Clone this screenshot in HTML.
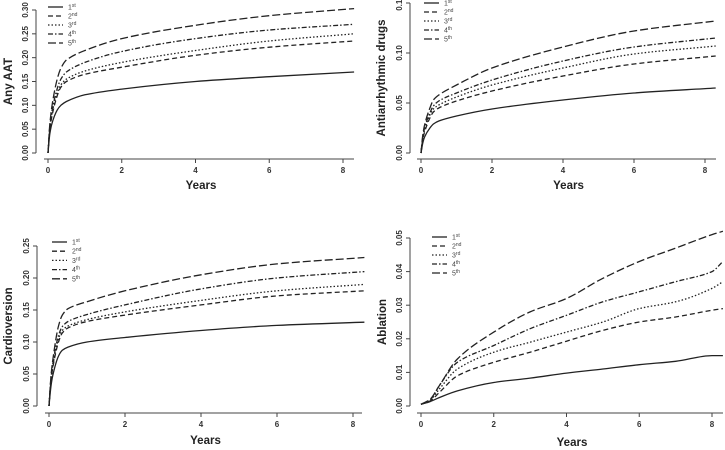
<!DOCTYPE html>
<html><head><meta charset="utf-8"><style>
body{margin:0;background:#fff;}
svg{display:block;font-family:"Liberation Sans",sans-serif;}
</style></head><body>
<svg id="c" width="725" height="450"></svg>
<script>
const seriesNames=["1st","2nd","3rd","4th","5th"];
const tA=[0,0.05,0.1,0.25,0.35,0.5,1,2,4,6,8.3];
const aat1=[0,0.04,0.06,0.09,0.1,0.108,0.122,0.134,0.15,0.16,0.17];
const aat2=[0,0.05,0.075,0.12,0.138,0.15,0.165,0.18,0.205,0.222,0.235];
const aat3=[0,0.052,0.08,0.125,0.143,0.155,0.172,0.19,0.215,0.235,0.25];
const aat4=[0,0.055,0.085,0.135,0.155,0.17,0.19,0.213,0.24,0.258,0.27];
const aat5=[0,0.06,0.095,0.155,0.178,0.195,0.215,0.24,0.268,0.288,0.303];
const aad1=[0,0.01,0.016,0.025,0.029,0.032,0.037,0.044,0.053,0.06,0.065];
const aad2=[0,0.014,0.021,0.035,0.041,0.045,0.052,0.062,0.077,0.089,0.097];
const aad3=[0,0.015,0.023,0.038,0.044,0.048,0.056,0.068,0.085,0.099,0.107];
const aad4=[0,0.016,0.025,0.04,0.047,0.052,0.06,0.073,0.092,0.106,0.115];
const aad5=[0,0.018,0.028,0.045,0.053,0.058,0.068,0.085,0.106,0.122,0.132];
const cv1=[0,0.03,0.048,0.078,0.087,0.092,0.1,0.107,0.118,0.126,0.131];
const cv2=[0,0.038,0.06,0.1,0.114,0.122,0.132,0.142,0.158,0.172,0.18];
const cv3=[0,0.04,0.062,0.105,0.118,0.125,0.135,0.147,0.165,0.18,0.19];
const cv4=[0,0.042,0.066,0.11,0.124,0.132,0.143,0.158,0.183,0.2,0.21];
const cv5=[0,0.045,0.072,0.125,0.142,0.152,0.163,0.18,0.205,0.222,0.232];
const tB=[0,0.25,0.5,1,2,3,4,5,6,7,8,8.3];
const ab1=[0.0005,0.0013,0.0025,0.0045,0.007,0.0083,0.0098,0.011,0.0123,0.0133,0.015,0.015];
const ab2=[0.0005,0.0015,0.004,0.009,0.013,0.016,0.0193,0.0225,0.025,0.0265,0.0285,0.029];
const ab3=[0.0005,0.0017,0.005,0.011,0.016,0.019,0.022,0.025,0.029,0.031,0.035,0.037];
const ab4=[0.0005,0.0018,0.006,0.013,0.018,0.023,0.027,0.031,0.034,0.037,0.040,0.043];
const ab5=[0.0005,0.002,0.006,0.014,0.022,0.028,0.032,0.038,0.043,0.047,0.051,0.052];
const xTicks=[0,2,4,6,8];
const aatTicks=["0.00","0.05","0.10","0.15","0.20","0.25","0.30"];
const aadTicks=["0.00","0.05","0.10","0.15"];
const cvTicks=["0.00","0.05","0.10","0.15","0.20","0.25"];
const abTicks=["0.00","0.01","0.02","0.03","0.04","0.05"];
const dashes=["","5,3","1.5,2","5,2,1.5,2","8,3"];
const svg=document.getElementById('c');
const NS="http://www.w3.org/2000/svg";
function mk(tag,at,parent){const e=document.createElementNS(NS,tag);for(const k in at)e.setAttribute(k,at[k]);(parent||svg).appendChild(e);return e;}
function smoothPath(px,py){
 const n=px.length,m=[],d=[];
 for(let i=0;i<n-1;i++)d.push((py[i+1]-py[i])/(px[i+1]-px[i]));
 m[0]=d[0];m[n-1]=d[n-2];
 for(let i=1;i<n-1;i++){m[i]=(d[i-1]*d[i]<=0)?0:2/(1/d[i-1]+1/d[i]);}
 let s='M'+px[0].toFixed(1)+','+py[0].toFixed(1);
 for(let i=0;i<n-1;i++){const h=(px[i+1]-px[i])/3;
  s+='C'+(px[i]+h).toFixed(1)+','+(py[i]+m[i]*h).toFixed(1)+' '+(px[i+1]-h).toFixed(1)+','+(py[i+1]-m[i+1]*h).toFixed(1)+' '+px[i+1].toFixed(1)+','+py[i+1].toFixed(1);}
 return s;
}
const panels=[
 {id:"any-aat",title:"Any AAT",t:tA,s:[aat1,aat2,aat3,aat4,aat5],ticks:aatTicks,ax:36,x0:48,x8:343,xr:354,y0:153,ymax:0.30,ytop:10,xa:159,yl:189,tx:12,leg:[48,7,9]},
 {id:"antiarrhythmic",title:"Antiarrhythmic drugs",t:tA,s:[aad1,aad2,aad3,aad4,aad5],ticks:aadTicks,ax:410,x0:421,x8:705,xr:716,y0:153,ymax:0.15,ytop:3,xa:159,yl:189,tx:385,leg:[424,3,9]},
 {id:"cardioversion",title:"Cardioversion",t:tA,s:[cv1,cv2,cv3,cv4,cv5],ticks:cvTicks,ax:37,x0:49,x8:353,xr:362,y0:406,ymax:0.25,ytop:246,xa:413,yl:444,tx:12,leg:[52,242,9.2]},
 {id:"ablation",title:"Ablation",t:tB,s:[ab1,ab2,ab3,ab4,ab5],ticks:abTicks,ax:410,x0:421,x8:712,xr:723,y0:406,ymax:0.05,ytop:238,xa:413,yl:446,tx:386,leg:[432,237,9]}
];
panels.forEach(p=>{
 const g=mk('g',{});
 
 
 const X=v=>p.x0+(p.x8-p.x0)*v/8;
 const Y=v=>p.y0-(p.y0-p.ytop)*v/p.ymax;
 const ya=mk('line',{x1:p.ax,x2:p.ax,y1:Y(0),y2:p.ytop,stroke:'#444','stroke-width':1},g);
 
 p.ticks.forEach(tk=>{const v=parseFloat(tk),y=Y(v);
  mk('line',{x1:p.ax-4,x2:p.ax,y1:y,y2:y,stroke:'#444'},g);
  const t=mk('text',{x:p.ax-8,y:y,'font-size':8,'font-weight':'bold',fill:'#333','text-anchor':'middle',transform:`rotate(-90 ${p.ax-8} ${y})`},g);
  t.textContent=tk;
  });
 const xa=mk('line',{x1:p.x0-4,x2:p.xr,y1:p.xa,y2:p.xa,stroke:'#444'},g);
 
 xTicks.forEach(v=>{const x=X(v);
  mk('line',{x1:x,x2:x,y1:p.xa,y2:p.xa+4,stroke:'#444'},g);
  const t=mk('text',{x:x,y:p.xa+14,'font-size':8,'font-weight':'bold',fill:'#333','text-anchor':'middle'},g);
  t.textContent=v;
  });
 const xl=mk('text',{x:(p.x0+p.xr)/2,y:p.yl,'font-size':11.5,'font-weight':'bold',fill:'#222','text-anchor':'middle'},g);
 xl.textContent='Years';
 
 const yc=(Y(0)+p.ytop)/2;
 const yt=mk('text',{x:p.tx,y:yc,'font-size':11.5,'font-weight':'bold',fill:'#222','text-anchor':'middle',transform:`rotate(-90 ${p.tx} ${yc})`},g);
 yt.textContent=p.title;
 
 p.s.forEach((arr,i)=>{
  const d=smoothPath(p.t.map(X),arr.map(Y));
  const path=mk('path',{d:d,fill:'none',stroke:'#222','stroke-width':1.3,'stroke-dasharray':dashes[i]},g);
  
  
  const ly=p.leg[1]+i*p.leg[2];
  const ll=mk('line',{x1:p.leg[0],x2:p.leg[0]+15,y1:ly,y2:ly,stroke:'#222','stroke-width':1.3,'stroke-dasharray':dashes[i]},g);
  
  const lt=mk('text',{x:p.leg[0]+20,y:ly+2.5,'font-size':7,fill:'#444'},g);
  lt.innerHTML=seriesNames[i].slice(0,1)+'<tspan font-size="5" dy="-2.5">'+seriesNames[i].slice(1)+'</tspan>';
  
 });
});
</script>
</body></html>
